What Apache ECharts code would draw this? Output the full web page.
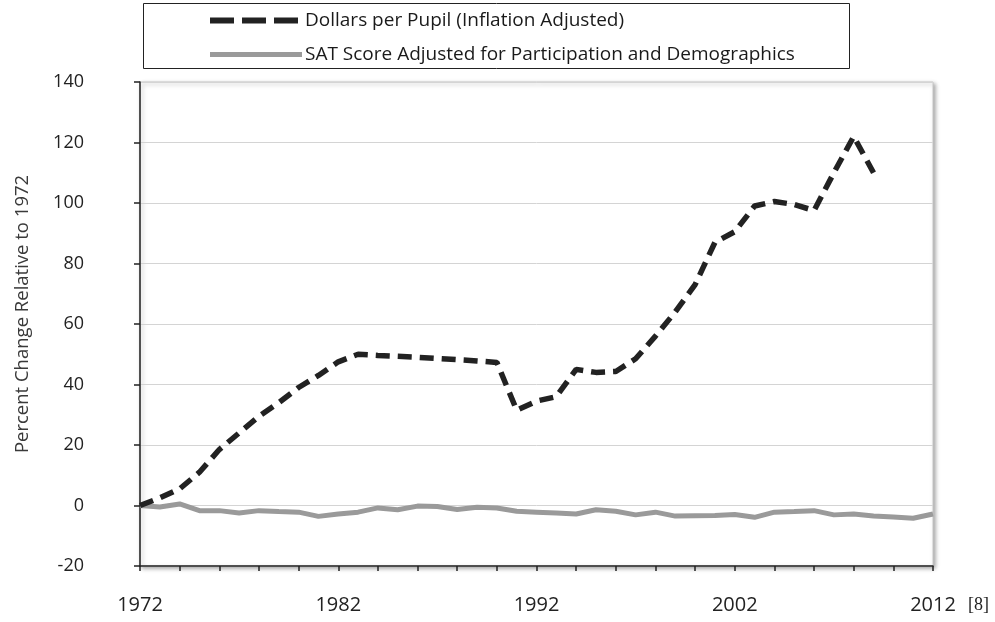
<!DOCTYPE html>
<html><head><meta charset="utf-8">
<script src="https://cdn.jsdelivr.net/npm/echarts@6/dist/echarts.min.js"></script>
<style>html,body{margin:0;padding:0;background:#fff}#c{width:995px;height:622px}</style>
</head><body><div id="c"></div>
<script>
const years = [];
for (let y = 1972; y <= 2012; y++) years.push(y);
const dollarsPerPupil = [0, 2.5, 5.5, 11, 18.5, 24, 29.5, 34, 39, 43, 47.5, 50, 49.6, 49.3, 49, 48.6, 48.2, 47.8, 47.3, 31.5, 34.5, 36, 45, 44, 44.3, 48.5, 56, 64, 73, 87, 90.5, 99, 100.5, 99.5, 97.5, 110, 122, 110];
const satScore = [0, -0.5, 0.5, -1.7, -1.7, -2.5, -1.7, -2, -2.2, -3.6, -2.8, -2.2, -0.8, -1.4, -0.2, -0.3, -1.3, -0.6, -0.8, -1.9, -2.2, -2.5, -2.8, -1.4, -1.9, -3.1, -2.2, -3.5, -3.4, -3.3, -3.0, -3.9, -2.2, -2.0, -1.7, -3.1, -2.8, -3.5, -3.8, -4.2, -2.8];
const yTicks = [-20, 0, 20, 40, 60, 80, 100, 120, 140];
const xLabelYears = [1972, 1982, 1992, 2002, 2012];
const seriesNames = ['Dollars per Pupil (Inflation Adjusted)', 'SAT Score Adjusted for Participation and Demographics'];
const yAxisTitle = 'Percent Change Relative to 1972';
const footnote = '[8]';

const zip = arr => arr.map((v, i) => [years[i], v]);
const font = '"Open Sans", sans-serif';
const chart = echarts.init(document.getElementById('c'), null, {renderer: 'canvas'});
chart.setOption({
  animation: false,
  backgroundColor: '#fff',
  grid: {left: 140, right: 62, top: 82, bottom: 56, show: true, backgroundColor: '#fff',
    borderColor: '#c8c8c8', borderWidth: 1,
    shadowColor: 'rgba(0,0,0,0.35)', shadowBlur: 4, shadowOffsetX: 2, shadowOffsetY: 2},
  legend: {
    orient: 'vertical', left: 202, top: 6, itemWidth: 92, itemHeight: 14, itemGap: 15,
    itemStyle: {opacity: 0},
    textStyle: {fontFamily: font, fontSize: 19, color: '#1a1a1a', padding: [0, 0, 0, -2]},
    data: [
      {name: seriesNames[0], lineStyle: {width: 6, type: [24, 8]}},
      {name: seriesNames[1], lineStyle: {width: 5}}
    ]
  },
  graphic: [
    {type: 'rect', shape: {x: 143.5, y: 3.5, width: 706, height: 65}, style: {fill: null, stroke: '#222', lineWidth: 1}, z: -1},
    {type: 'text', left: 968, top: 596, style: {text: footnote, font: '18px "Liberation Serif", serif', fill: '#222'}}
  ],
  xAxis: {
    type: 'value', min: 1972, max: 2012, interval: 2,
    axisLine: {onZero: false, lineStyle: {color: '#222', width: 1.5}},
    axisTick: {show: true, length: 5, lineStyle: {color: '#222', width: 1.5}},
    splitLine: {show: false},
    axisLabel: {margin: 29, fontFamily: font, fontSize: 20, color: '#222',
      formatter: v => xLabelYears.includes(v) ? String(v) : ''}
  },
  yAxis: {
    type: 'value', min: yTicks[0], max: yTicks[yTicks.length - 1], interval: 20,
    name: yAxisTitle, nameLocation: 'middle', nameRotate: 90, nameGap: 108,
    nameTextStyle: {fontFamily: font, fontSize: 18.5, color: '#3a3a3a', padding: [0, 0, 0, 20]},
    axisLine: {show: true, lineStyle: {color: '#222', width: 1.5}},
    axisTick: {show: true, length: 6, lineStyle: {color: '#222', width: 1.5}},
    splitLine: {lineStyle: {color: '#d4d4d4', width: 1}},
    axisLabel: {margin: 56, fontFamily: font, fontSize: 18, color: '#222'}
  },
  series: [
    {name: seriesNames[0], type: 'line', data: zip(dollarsPerPupil), symbol: 'none', z: 3,
      lineStyle: {color: '#222', width: 5.5, type: [14, 8]}, itemStyle: {color: '#222'}},
    {name: seriesNames[1], type: 'line', data: zip(satScore), symbol: 'none', z: 2,
      lineStyle: {color: '#9a9a9a', width: 5}, itemStyle: {color: '#9a9a9a'}}
  ]
});
</script></body></html>
